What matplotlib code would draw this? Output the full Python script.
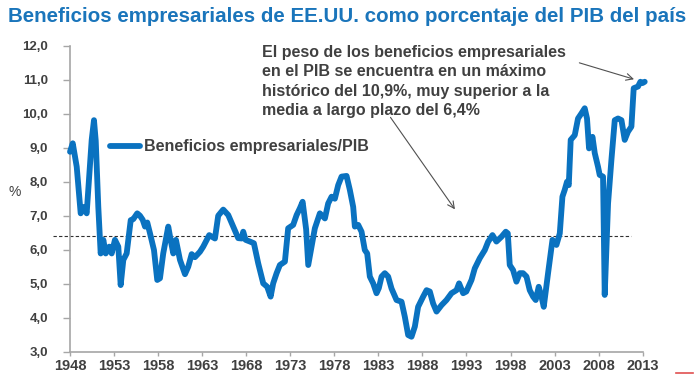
'''
 Beneficios empresariales de EE.UU. / PIB
'''
from matplotlib import pyplot as plt
from matplotlib.ticker import FuncFormatter
from matplotlib.lines import Line2D

## años (decimales) y porcentaje de beneficios sobre el PIB
years = [1948.0, 1948.31, 1948.76, 1949.21, 1949.59, 1949.89, 1950.46, 1950.72, 1950.92,
         1951.21, 1951.48, 1951.78, 1952.05, 1952.46, 1952.73, 1953.10, 1953.48, 1953.75,
         1954.05, 1954.43, 1954.89, 1955.18, 1955.63, 1955.94, 1956.25, 1956.51, 1956.77,
         1957.08, 1957.53, 1957.90, 1958.21, 1958.58, 1959.15, 1959.42, 1959.72, 1960.02,
         1960.48, 1961.05, 1961.42, 1961.81, 1962.18, 1962.75, 1963.12, 1963.80, 1964.45,
         1964.82, 1965.39, 1965.96, 1966.53, 1967.09, 1967.50, 1967.66, 1967.93, 1968.42,
         1968.87, 1969.36, 1969.93, 1970.38, 1970.77, 1971.06, 1971.45, 1971.82, 1972.39,
         1972.76, 1973.33, 1973.72, 1974.09, 1974.40, 1974.80, 1975.04, 1975.42, 1975.79,
         1976.36, 1976.93, 1977.30, 1977.69, 1978.06, 1978.44, 1978.82, 1979.39, 1979.76,
         1980.14, 1980.33, 1980.71, 1981.09, 1981.46, 1981.73, 1982.03, 1982.41, 1982.79,
         1983.05, 1983.36, 1983.73, 1984.11, 1984.49, 1985.06, 1985.63, 1986.00, 1986.38,
         1986.76, 1987.14, 1987.51, 1988.08, 1988.47, 1988.84, 1989.21, 1989.60, 1990.17,
         1990.73, 1991.30, 1991.87, 1992.16, 1992.62, 1992.98, 1993.57, 1993.94, 1994.51,
         1995.08, 1995.45, 1995.95, 1996.40, 1996.97, 1997.46, 1997.69, 1997.91, 1998.29,
         1998.67, 1999.05, 1999.42, 1999.81, 2000.18, 2000.56, 2000.86, 2001.20, 2001.51,
         2001.77, 2002.26, 2002.76, 2003.21, 2003.59, 2003.89, 2004.15, 2004.41, 2004.61,
         2004.83, 2005.29, 2005.66, 2006.05, 2006.42, 2006.68, 2006.91, 2007.30, 2007.56,
         2007.93, 2008.12, 2008.50, 2008.69, 2009.07, 2009.45, 2009.83, 2010.20, 2010.59,
         2010.96, 2011.33, 2011.72, 2011.98, 2012.47, 2012.74, 2012.97, 2013.23]
values = [8.88, 9.13, 8.44, 7.07, 7.26, 7.07, 9.23, 9.81, 9.20,
          7.26, 5.89, 6.29, 5.89, 6.09, 5.89, 6.29, 6.09, 4.96,
          5.70, 5.89, 6.87, 6.90, 7.07, 7.00, 6.88, 6.68, 6.80,
          6.48, 5.99, 5.11, 5.16, 5.89, 6.68, 6.29, 5.89, 6.29,
          5.70, 5.28, 5.50, 5.87, 5.78, 5.94, 6.09, 6.43, 6.33,
          7.00, 7.18, 7.02, 6.68, 6.34, 6.33, 6.53, 6.29, 6.24,
          6.19, 5.60, 5.01, 4.91, 4.62, 5.01, 5.31, 5.55, 5.65,
          6.63, 6.73, 7.02, 7.22, 7.41, 6.60, 5.55, 6.09, 6.63,
          7.07, 6.92, 7.36, 7.56, 7.50, 7.90, 8.15, 8.17, 7.76,
          7.26, 6.68, 6.73, 6.53, 5.99, 5.89, 5.21, 5.01, 4.72,
          4.87, 5.21, 5.31, 5.21, 4.86, 4.52, 4.47, 4.03, 3.49,
          3.44, 3.74, 4.32, 4.62, 4.81, 4.77, 4.42, 4.18, 4.37,
          4.52, 4.72, 4.81, 5.01, 4.72, 4.77, 5.11, 5.45, 5.75,
          5.99, 6.23, 6.43, 6.24, 6.38, 6.53, 6.48, 5.55, 5.40,
          5.06, 5.31, 5.31, 5.21, 4.81, 4.62, 4.52, 4.91, 4.62,
          4.32, 5.31, 6.29, 6.14, 6.48, 7.56, 7.76, 8.00, 7.90,
          9.23, 9.37, 9.86, 10.01, 10.16, 9.86, 8.98, 9.32, 8.84,
          8.44, 8.20, 8.15, 4.67, 7.36, 8.64, 9.81, 9.86, 9.81,
          9.23, 9.47, 9.62, 10.75, 10.80, 10.94, 10.90, 10.94]
media = 6.4
xticks = list(range(1948, 2014, 5))
yticks = list(range(3, 13))

gris = '#404040'
azul = '#0A72C0'
plt.rcParams['font.family'] = ['Liberation Sans', 'DejaVu Sans']

fig = plt.figure(figsize=(6.96, 3.75), dpi=100)
ax = fig.add_axes([0.1006, 0.0621, 0.8228, 0.816])

ax.plot(years, values, color=azul, linewidth=4.2, solid_joinstyle='round',
        solid_capstyle='round', clip_on=False, label='Beneficios empresariales/PIB', zorder=3)
## media a largo plazo
ax.plot([1946.1, 2011.7], [media, media], color='#303030', linewidth=0.8,
        linestyle=(0, (3, 2)), clip_on=False, zorder=2)

ax.set_xlim(1948, 2013)
ax.set_ylim(3, 12)
ax.set_xticks(xticks)
ax.set_yticks(yticks)
ax.yaxis.set_major_formatter(FuncFormatter(lambda v, p: f'{v:.1f}'.replace('.', ',')))
for s in ['top', 'right']:
    ax.spines[s].set_visible(False)
for s in ['left', 'bottom']:
    ax.spines[s].set_color('#A6A6A6')
    ax.spines[s].set_linewidth(1.2)
ax.tick_params(axis='y', colors='#A6A6A6', labelcolor=gris, length=5, width=1, pad=11,
               labelsize=9.5)
ax.tick_params(axis='x', colors='#A6A6A6', labelcolor=gris, length=3, width=1, pad=2,
               labelsize=10.5)
for t in ax.get_xticklabels() + ax.get_yticklabels():
    t.set_fontweight('bold')

fig.text(15 / 696, 1 - 192 / 375, '%', color=gris, fontsize=10, ha='center', va='center')

fig.text(8 / 696, 1 - 17 / 375, 'Beneficios empresariales de EE.UU. como porcentaje del PIB del país',
         color='#1a75bb', fontsize=14.8, fontweight='bold', ha='left', va='center')

leg = ax.legend(loc='center left', bbox_to_anchor=(0.0698, 0.669), frameon=False,
                borderpad=0, borderaxespad=0, handlelength=1.9, handletextpad=0.2,
                prop={'size': 11.5, 'weight': 'bold'})
for t in leg.get_texts():
    t.set_color(gris)

ax.text(1969.75, 12.03,
        'El peso de los beneficios empresariales\nen el PIB se encuentra en un máximo\n'
        'histórico del 10,9%, muy superior a la\nmedia a largo plazo del 6,4%',
        color=gris, fontsize=11.5, fontweight='bold', ha='left', va='top',
        linespacing=1.38, clip_on=False)

flecha = dict(arrowstyle='->', color='#505050', lw=0.8, mutation_scale=12)
ax.annotate('', xy=(2012.32, 10.99), xytext=(2005.51, 11.52), arrowprops=flecha,
            annotation_clip=False)
ax.annotate('', xy=(1991.87, 7.12), xytext=(1984.19, 9.96), arrowprops=flecha,
            annotation_clip=False)

## línea roja decorativa abajo a la derecha
fig.add_artist(Line2D([676 / 696, 693 / 696], [1 - 373 / 375, 1 - 373 / 375],
                      color='#E05050', linewidth=1.2))

plt.savefig('out.png', dpi=100)
